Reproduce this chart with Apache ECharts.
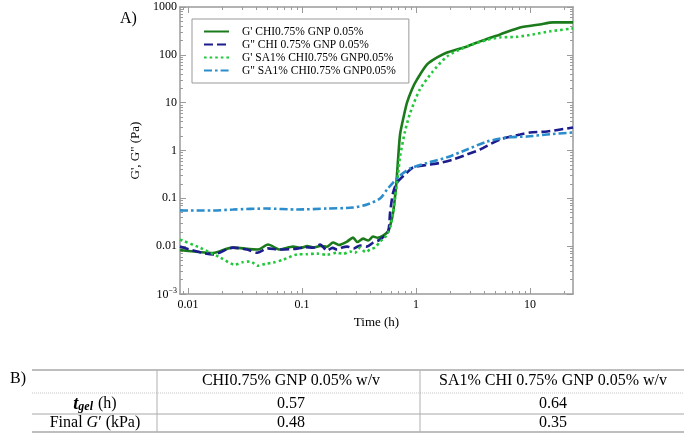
<!DOCTYPE html>
<html>
<head>
<meta charset="utf-8">
<script src="https://cdn.jsdelivr.net/npm/echarts@6/dist/echarts.min.js"></script>
<style>
html,body{margin:0;padding:0;background:#fff;}
#chart{width:684px;height:435px;}
</style>
</head>
<body>
<div id="chart"></div>
<script>
// ---------- data ----------
const SERIES_NAMES = [
  "G' CHI0.75% GNP 0.05%",
  'G" CHI 0.75% GNP 0.05%',
  "G' SA1% CHI0.75% GNP0.05%",
  'G" SA1% CHI0.75% GNP0.05%'
];
// G' CHI0.75% GNP 0.05%
const T_G1 = [0.0085,0.0166,0.0243,0.0411,0.0503,0.0641,0.0834,0.098,0.1107,0.127,0.1439,0.165,0.1871,0.21,0.248,0.280,0.305,0.343,0.38,0.420,0.46,0.514,0.568,0.60,0.629,0.668,0.695,0.724,0.78,0.834,0.92,1.02,1.25,1.53,1.87,2.80,3.64,5.46,8.17,12.2,15.9,23.8];
const V_G1 = [0.0083,0.0072,0.0093,0.0085,0.0108,0.0085,0.0098,0.0092,0.0100,0.0094,0.0101,0.0097,0.0119,0.0106,0.0125,0.0151,0.0122,0.0144,0.0131,0.0159,0.0150,0.0167,0.0202,0.030,0.0505,0.177,0.648,2.16,5.2,10.1,18.9,30.6,63,88,112,150,191,267,374,432,477,477];
// G" CHI 0.75% GNP 0.05%
const T_G2 = [0.0085,0.0166,0.0248,0.0330,0.0403,0.05,0.0641,0.0903,0.105,0.125,0.144,0.166,0.185,0.203,0.225,0.248,0.285,0.323,0.37,0.420,0.483,0.568,0.592,0.629,0.681,0.834,0.941,1.25,1.62,2.11,2.80,3.64,5.46,8.17,10.0,14.1,23.8];
const V_G2 = [0.0098,0.0067,0.0093,0.0085,0.0073,0.0090,0.0085,0.0089,0.0095,0.0093,0.0108,0.0081,0.0092,0.0085,0.0094,0.0098,0.0090,0.0103,0.0098,0.0119,0.0137,0.0202,0.0505,0.132,0.214,0.347,0.441,0.50,0.55,0.648,0.825,1.05,1.70,2.16,2.38,2.50,3.03];
// G' SA1% CHI0.75% GNP0.05%
const T_G3 = [0.0085,0.0127,0.0191,0.0258,0.030,0.035,0.0411,0.048,0.0557,0.068,0.0903,0.11,0.1355,0.165,0.203,0.23,0.264,0.29,0.323,0.36,0.395,0.44,0.483,0.53,0.568,0.60,0.629,0.66,0.695,0.724,0.80,0.886,1.08,1.38,1.87,2.80,4.2,5.46,7.69,10.6,15,23.8];
const V_G3 = [0.0137,0.0093,0.0058,0.0041,0.0046,0.0048,0.0039,0.0043,0.0045,0.0052,0.0067,0.0068,0.0070,0.0066,0.0073,0.0069,0.0077,0.0072,0.0093,0.0075,0.0085,0.0095,0.0125,0.015,0.0193,0.028,0.05,0.12,0.32,0.75,2.5,6.0,18.9,42.8,92.6,150,205,231,238,267,310,357];
// G" SA1% CHI0.75% GNP0.05%
const T_G4 = [0.0085,0.0166,0.0248,0.0493,0.0903,0.166,0.280,0.372,0.483,0.557,0.629,0.724,0.886,1.25,1.87,2.80,4.20,6.28,9.41,14.1,23.8];
const V_G4 = [0.0556,0.0556,0.0583,0.0612,0.0583,0.0612,0.0642,0.0742,0.099,0.153,0.214,0.300,0.42,0.55,0.72,1.05,1.54,1.87,1.96,2.16,2.38];

const X_TICKS = [0.01, 0.1, 1, 10];
const X_TICK_LABELS = ['0.01', '0.1', '1', '10'];
const Y_TICKS = [0.001, 0.01, 0.1, 1, 10, 100, 1000];
const Y_TICK_LABELS = ['{b|10}{s|−3}', '0.01', '0.1', '1', '10', '100', '1000'];
const X_RANGE = [0.0085, 23.8];
const Y_RANGE = [0.001, 1000];

// table
const TABLE_HEADERS = ['CHI0.75% GNP 0.05% w/v', 'SA1% CHI 0.75% GNP 0.05% w/v'];
const T_GEL = [0.57, 0.64];
const FINAL_G = [0.48, 0.35];

// ---------- helpers ----------
function minorTicks(lo, hi) {
  const out = [];
  for (let e = -4; e <= 4; e++) {
    for (let m = 2; m <= 9; m++) {
      const v = m * Math.pow(10, e);
      if (v >= lo && v <= hi) out.push(v);
    }
  }
  return out;
}
function labelFor(ticks, labels) {
  return function (v) {
    for (let i = 0; i < ticks.length; i++) {
      if (Math.abs(Math.log10(v) - Math.log10(ticks[i])) < 1e-6) return labels[i];
    }
    return '';
  };
}
function zip(a, b) { return a.map((x, i) => [x, b[i]]); }

const FONT = 'Liberation Serif';
const AX = '#9a9a9a';

function xAxisDef(pos, minor, showLabel) {
  return {
    type: 'log', position: pos, min: X_RANGE[0], max: X_RANGE[1], logBase: 10,
    axisLine: { show: !minor, lineStyle: { color: AX, width: 1.5 } },
    axisTick: { show: true, inside: true, length: minor ? 3 : 6,
      customValues: minor ? minorTicks(X_RANGE[0], X_RANGE[1]) : X_TICKS,
      lineStyle: { color: AX, width: 1 } },
    axisLabel: { show: showLabel, customValues: X_TICKS, formatter: labelFor(X_TICKS, X_TICK_LABELS),
      fontFamily: FONT, fontSize: 12, color: '#000', margin: 5 },
    splitLine: { show: false },
    name: showLabel ? 'Time (h)' : '', nameLocation: 'middle', nameGap: 21,
    nameTextStyle: { fontFamily: FONT, fontSize: 13, color: '#000' }
  };
}
function yAxisDef(pos, minor, showLabel) {
  return {
    type: 'log', position: pos, min: Y_RANGE[0], max: Y_RANGE[1], logBase: 10,
    axisLine: { show: !minor, lineStyle: { color: AX, width: 1.5 } },
    axisTick: { show: true, inside: true, length: minor ? 3 : 6,
      customValues: minor ? minorTicks(Y_RANGE[0], Y_RANGE[1]) : Y_TICKS,
      lineStyle: { color: AX, width: 1 } },
    axisLabel: { show: showLabel, customValues: Y_TICKS, formatter: labelFor(Y_TICKS, Y_TICK_LABELS),
      fontFamily: FONT, fontSize: 12, color: '#000', margin: 3,
      rich: { b: { fontFamily: FONT, fontSize: 12, color: '#000', lineHeight: 14, verticalAlign: 'bottom' },
              s: { fontFamily: FONT, fontSize: 8, color: '#000', lineHeight: 8, verticalAlign: 'top', padding: [0, 0, 7, 0] } } },
    splitLine: { show: false },
    name: showLabel ? 'G\', G" (Pa)' : '', nameLocation: 'middle', nameGap: 32,
    nameTextStyle: { fontFamily: FONT, fontSize: 13, color: '#000' }
  };
}

const COLORS = ['#1b7a1b', '#1c1c8e', '#22c83a', '#2b8dcc'];
const LINE_TYPES = ['solid', [9, 4], [2.6, 3], [8, 3, 2.6, 3]];
const DATA = [zip(T_G1, V_G1), zip(T_G2, V_G2), zip(T_G3, V_G3), zip(T_G4, V_G4)];

const series = SERIES_NAMES.map((n, i) => ({
  name: n, type: 'line', xAxisIndex: 0, yAxisIndex: 0,
  data: DATA[i], symbol: 'none', smooth: 0.25,
  lineStyle: { color: COLORS[i], width: 2.6, type: LINE_TYPES[i], cap: 'butt' },
  itemStyle: { color: COLORS[i] }
}));

// table graphics
const tableG = [];
const TX0 = 32, TX1 = 684, TC1 = 157, TC2 = 420;
const TY = [370, 393, 414, 432];
function hline(y, dashed, w) {
  tableG.push({ type: 'line', shape: { x1: TX0, y1: y, x2: TX1, y2: y },
    style: { stroke: dashed ? '#c8c8c8' : '#a8a8a8', lineWidth: w || 1.2, lineDash: dashed ? [1, 1] : null } });
}
hline(TY[0], false, 1.5); hline(TY[1], true, 1); hline(TY[2], false, 1.2); hline(TY[3], false, 1.5);
[TC1, TC2].forEach(x => tableG.push({ type: 'line', shape: { x1: x, y1: TY[0], x2: x, y2: TY[3] },
  style: { stroke: '#b0b0b0', lineWidth: 1 } }));
function ctext(x, y, t) {
  tableG.push({ type: 'text', x: x, y: y,
    style: { text: t, fontFamily: FONT, fontSize: 16, fill: '#000', align: 'center', verticalAlign: 'middle' } });
}
const COLX = [291, 553];
const ROWY = [381, 404, 423];
TABLE_HEADERS.forEach((h, i) => ctext(COLX[i], ROWY[0], h));
T_GEL.forEach((v, i) => ctext(COLX[i], ROWY[1], v.toFixed(2)));
FINAL_G.forEach((v, i) => ctext(COLX[i], ROWY[2], v.toFixed(2)));
tableG.push({ type: 'text', x: 95, y: ROWY[1], style: {
  text: '{t|t}{g|gel}{n| (h)}', align: 'center', verticalAlign: 'middle', fill: '#000',
  rich: { t: { fontFamily: FONT, fontSize: 18, fontWeight: 'bold', fontStyle: 'italic', fill: '#000' },
          g: { fontFamily: FONT, fontSize: 12, fontWeight: 'bold', fontStyle: 'italic', fill: '#000', verticalAlign: 'bottom', padding: [6, 1, 0, 0] },
          n: { fontFamily: FONT, fontSize: 16, fill: '#000' } } } });
tableG.push({ type: 'text', x: 95, y: ROWY[2], style: {
  text: '{n|Final }{i|G}{n|′ (kPa)}', align: 'center', verticalAlign: 'middle', fill: '#000',
  rich: { n: { fontFamily: FONT, fontSize: 16, fill: '#000' },
          i: { fontFamily: FONT, fontSize: 16, fontStyle: 'italic', fill: '#000' } } } });
tableG.push({ type: 'text', x: 10, y: 379, style: { text: 'B)', fontFamily: FONT, fontSize: 16, fill: '#000', verticalAlign: 'middle' } });
tableG.push({ type: 'text', x: 120, y: 19, style: { text: 'A)', fontFamily: FONT, fontSize: 16, fill: '#000', verticalAlign: 'middle' } });

const chart = echarts.init(document.getElementById('chart'), null, { renderer: 'canvas' });
chart.setOption({
  animation: false,
  backgroundColor: '#fff',
  grid: { left: 180, top: 7, width: 393, height: 287, containLabel: false },
  legend: {
    orient: 'vertical', left: 192, top: 19,
    data: SERIES_NAMES,
    itemWidth: 25, itemHeight: 13, itemGap: 0,
    padding: [6, 13, 6, 11],
    borderColor: '#999', borderWidth: 1, backgroundColor: '#fff',
    itemStyle: { opacity: 0 },
    textStyle: { fontFamily: FONT, fontSize: 11.5, color: '#000', padding: [0, 0, 0, 8], lineHeight: 13 }
  },
  xAxis: [xAxisDef('bottom', false, true), xAxisDef('bottom', true, false), xAxisDef('top', false, false), xAxisDef('top', true, false)],
  yAxis: [yAxisDef('left', false, true), yAxisDef('left', true, false), yAxisDef('right', false, false), yAxisDef('right', true, false)],
  series: series,
  graphic: tableG
});
</script>
</body>
</html>
